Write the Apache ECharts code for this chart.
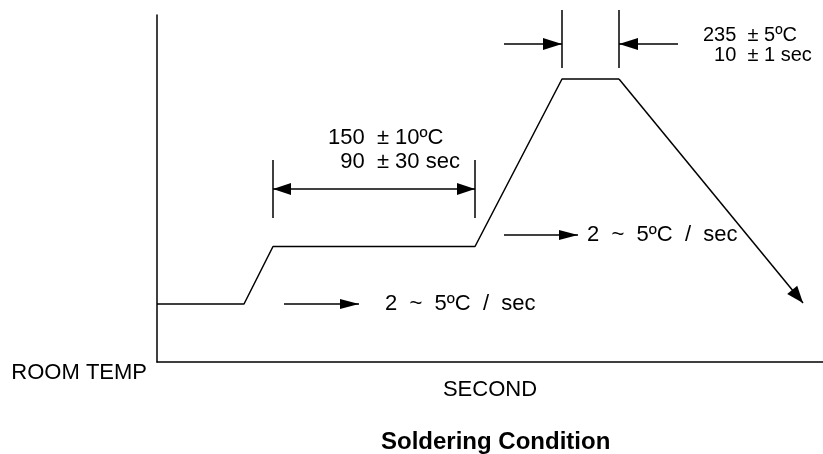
<!DOCTYPE html>
<html>
<head>
<meta charset="utf-8">
<script src="https://cdn.jsdelivr.net/npm/echarts@6/dist/echarts.min.js"></script>
<style>
html,body{margin:0;padding:0;background:#fff;}
#chart{width:823px;height:454px;}
</style>
</head>
<body>
<div id="chart"></div>
<script>
// ---- data (schematic units: x = seconds, y = relative temperature) ----
const profileTime = [0, 43.5, 58, 159, 202.5, 231];
const profileTemp = [58, 58, 115.5, 115.5, 283, 283];
const coolingEnd = [323, 59];

const soakSpan = [58, 159];
const soakTickTemp = [144, 202];
const soakArrowTemp = 173;

const peakSpan = [202.5, 231];
const peakTickTemp = [294, 352];
const peakArrowTemp = 318;
const peakArrowTails = [173.5, 260.5];

const rampArrowTails = [63.5, 173.5];
const rampArrowTips = [101, 210.5];
const rampArrowTemps = [58, 127];

const soakLabel = '150  ± 10ºC\n  90  ± 30 sec';
const peakLabel = '235  ± 5ºC\n  10  ± 1 sec';
const rampLabels = ['2  ~  5ºC  /  sec', '2  ~  5ºC  /  sec'];
const yTickLabels = ['ROOM TEMP'];
const xAxisName = 'SECOND';
const chartTitle = 'Soldering Condition';

const xRange = [0, 333];
const yRange = [0, 347];

// ---- build ----
const FONT = "'Liberation Sans', Arial, sans-serif";
const BLACK = '#000';

function arrow(from, to, size, startSym) {
  return [
    { coord: from, symbol: startSym || 'none', symbolSize: size, symbolOffset: [0, size[1] / 2] },
    { coord: to, symbol: 'triangle', symbolSize: size, symbolOffset: [0, size[1] / 2] }
  ];
}

const markData = [
  // cooling ramp with arrow head
  arrow([profileTime[profileTime.length - 1], profileTemp[profileTemp.length - 1]], coolingEnd, [13, 17]),
  // soak span arrow (double headed)
  arrow([soakSpan[0], soakArrowTemp], [soakSpan[1], soakArrowTemp], [12, 18], 'triangle'),
  // peak span arrows
  arrow([peakArrowTails[0], peakArrowTemp], [peakSpan[0], peakArrowTemp], [12, 19]),
  arrow([peakArrowTails[1], peakArrowTemp], [peakSpan[1], peakArrowTemp], [12, 19]),
  // ramp rate arrows
  arrow([rampArrowTails[0], rampArrowTemps[0]], [rampArrowTips[0], rampArrowTemps[0]], [10, 19]),
  arrow([rampArrowTails[1], rampArrowTemps[1]], [rampArrowTips[1], rampArrowTemps[1]], [10, 19])
];

// bracket ticks (vertical extension lines), broken with '-'
const tickData = [];
[[soakSpan, soakTickTemp], [peakSpan, peakTickTemp]].forEach(function (pair) {
  pair[0].forEach(function (x) {
    tickData.push([x, pair[1][0]], [x, pair[1][1]], ['-', '-']);
  });
});

function note(coord, text, offset, size, lh) {
  return {
    value: coord,
    label: {
      show: true, formatter: text, position: 'inside', align: 'left', verticalAlign: 'middle',
      offset: offset, fontSize: size, lineHeight: lh || size, color: BLACK, fontFamily: FONT,
      textBorderWidth: 0, opacity: 1
    }
  };
}

const notes = [
  note([soakSpan[0], soakArrowTemp], soakLabel, [55, -39], 22, 24),
  note([peakArrowTails[1], peakArrowTemp], peakLabel, [25, 1], 20, 20),
  note([rampArrowTips[0], rampArrowTemps[0]], rampLabels[0], [26, 0], 22),
  note([rampArrowTips[1], rampArrowTemps[1]], rampLabels[1], [9, 0], 22)
];

const chart = echarts.init(document.getElementById('chart'), null, { renderer: 'canvas' });
chart.setOption({
  animation: false,
  backgroundColor: '#fff',
  title: {
    text: chartTitle, left: 376, top: 425,
    textStyle: { fontFamily: FONT, fontSize: 24, fontWeight: 'bold', color: BLACK }
  },
  grid: { left: 157, right: 0, top: 15, bottom: 92 },
  xAxis: {
    type: 'value', min: xRange[0], max: xRange[1], interval: xRange[1],
    axisLine: { show: true, lineStyle: { color: BLACK, width: 1.5 } },
    axisTick: { show: false }, axisLabel: { show: false }, splitLine: { show: false },
    name: xAxisName, nameLocation: 'middle', nameGap: 17,
    nameTextStyle: { fontFamily: FONT, fontSize: 22, color: BLACK, verticalAlign: 'top' }
  },
  yAxis: {
    type: 'value', min: yRange[0], max: yRange[1], interval: yRange[1],
    axisLine: { show: true, lineStyle: { color: BLACK, width: 1.5 } },
    axisTick: { show: false }, splitLine: { show: false },
    axisLabel: {
      show: true, margin: 10, fontFamily: FONT, fontSize: 22, color: BLACK, verticalAlign: 'top',
      formatter: function (v) { return v === yRange[0] ? yTickLabels[0] : ''; }
    }
  },
  series: [
    {
      type: 'line', name: 'profile', clip: false, symbol: 'none',
      lineStyle: { color: BLACK, width: 1.5 },
      data: profileTime.map(function (t, i) { return [t, profileTemp[i]]; }),
      markLine: {
        silent: true, animation: false, precision: 4,
        lineStyle: { color: BLACK, width: 1.5, type: 'solid' },
        itemStyle: { color: BLACK },
        label: { show: false },
        emphasis: { disabled: true },
        data: markData
      }
    },
    {
      type: 'line', name: 'ticks', clip: false, symbol: 'none', silent: true,
      connectNulls: false,
      lineStyle: { color: BLACK, width: 1.5 },
      data: tickData
    },
    {
      type: 'scatter', name: 'notes', clip: false, symbolSize: 1, silent: true,
      itemStyle: { color: 'rgba(0,0,0,0)', opacity: 1 },
      emphasis: { disabled: true },
      data: notes
    }
  ]
});
</script>
</body>
</html>
